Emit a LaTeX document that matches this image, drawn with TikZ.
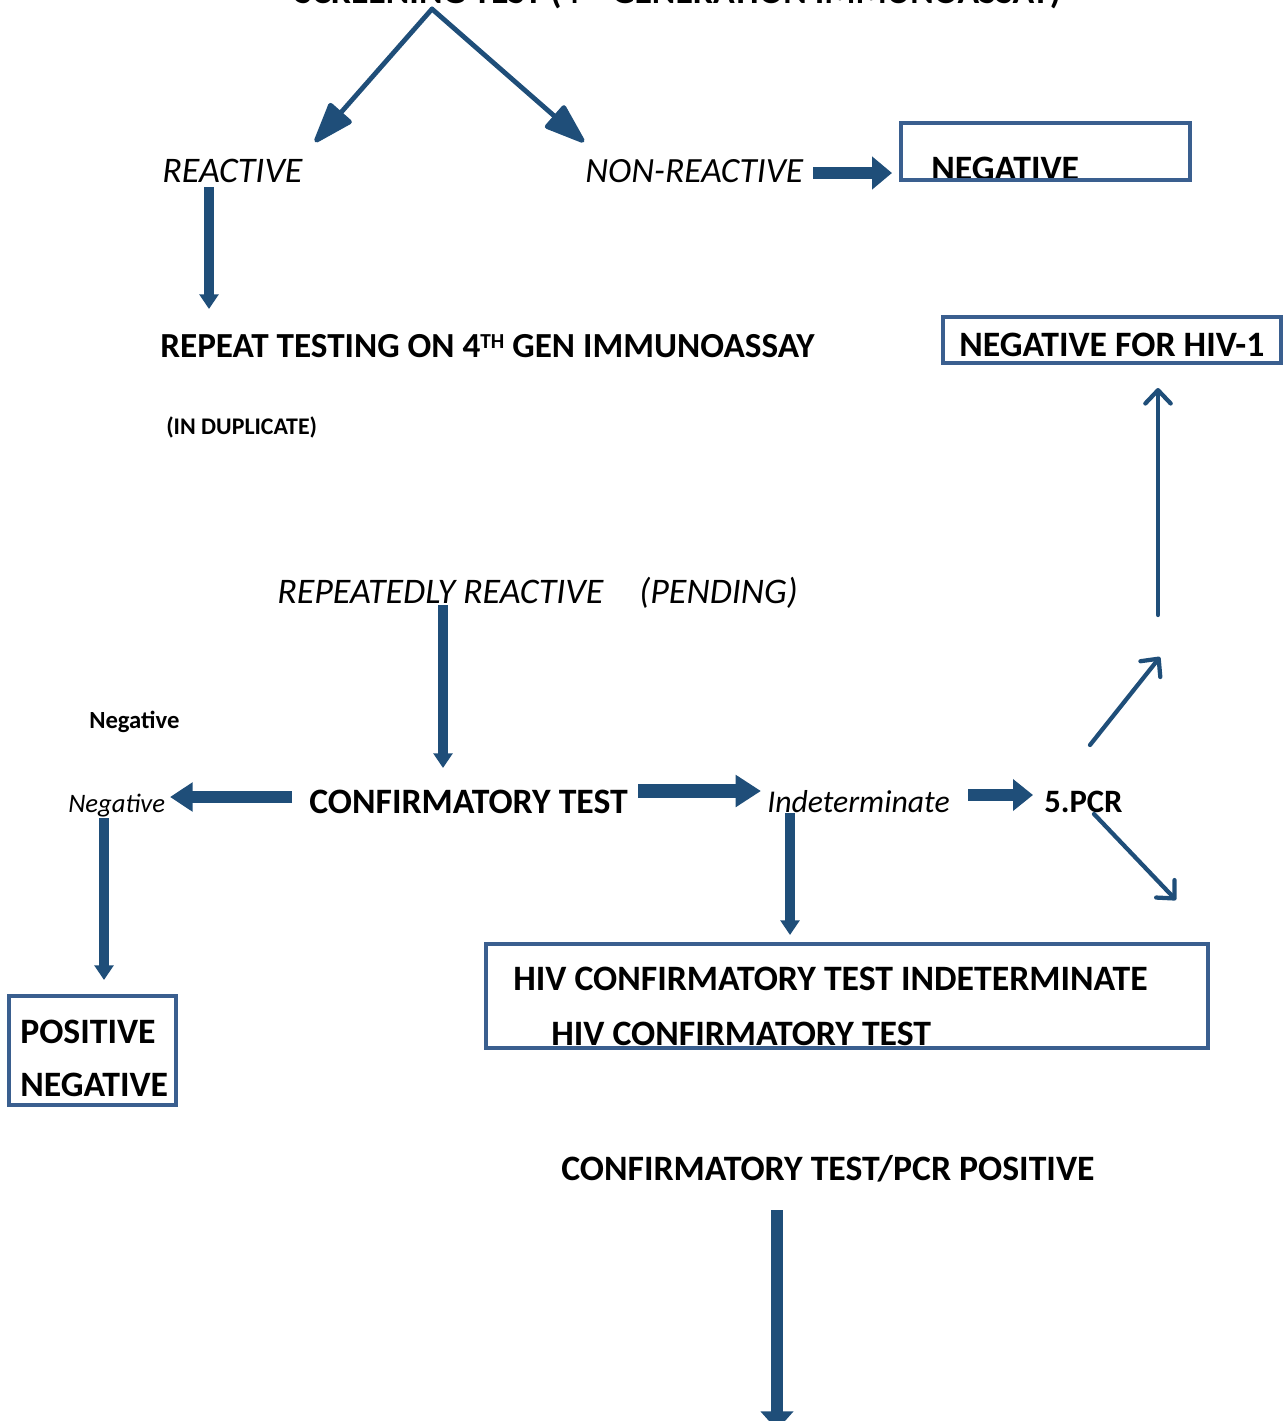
\documentclass[tikz,border=0pt]{standalone}
\usepackage{fontspec}
\setmainfont{Carlito}
\usetikzlibrary{arrows.meta}
\definecolor{arr}{RGB}{31,78,121}
\definecolor{bx}{RGB}{58,95,143}
\newcommand\supTH{{\fontsize{16}{17}\selectfont\raisebox{6.5pt}{TH}}}
\begin{document}
\begin{tikzpicture}[x=0.75pt,y=-0.75pt,
  lbl/.style={anchor=base west, inner sep=0pt, font=\fontsize{26.8}{30}\selectfont\bfseries},
  ital/.style={anchor=base west, inner sep=0pt, font=\fontsize{27}{30}\selectfont\itshape},
  boxline/.style={draw=bx, line width=2.6pt},
  thinarr/.style={draw=arr, line width=3.6pt, line cap=round, line join=round, -{Triangle[length=34pt,width=23pt,round]}},
  barb/.style={draw=arr, line width=3.2pt, line cap=round, -{Straight Barb[length=10pt,width=19pt,round]}},
  blk/.style args={#1/#2/#3}{draw=arr, line width=#1, -{Triangle[length=#2,width=#3]}}
]
\useasboundingbox (0,0) rectangle (1283,1421);

% texts
\node[lbl, anchor=base] (screen) at (678,3) {SCREENING TEST (4\supTH{} GENERATION IMMUNOASSAY)};
\node[ital] (reactive) at (162,182) {REACTIVE};
\node[ital, font=\fontsize{26.6}{30}\selectfont\itshape] (nonreactive) at (585,182) {NON-REACTIVE};
\node[lbl] (neg1) at (931,180) {NEGATIVE};
\node[lbl, font=\fontsize{26.4}{30}\selectfont\bfseries] (repeat) at (160,357) {REPEAT TESTING ON 4\supTH{} GEN IMMUNOASSAY};
\node[lbl, font=\fontsize{17.9}{20}\selectfont\bfseries] (dup) at (166,434) {(IN DUPLICATE)};
\node[lbl] (neghiv) at (959,356) {NEGATIVE FOR HIV-1};
\node[ital] (rr) at (277,603) {REPEATEDLY REACTIVE\hspace{27pt}(PENDING)};
\node[lbl, font=\fontsize{18.5}{22}\selectfont\bfseries] (negb) at (89,728) {Negative};
\node[ital, font=\fontsize{20}{24}\selectfont\itshape] (negi) at (68,812) {Negative};
\node[lbl] (conf) at (309,813) {CONFIRMATORY TEST};
\node[ital, font=\fontsize{23.8}{28}\selectfont\itshape] (indet) at (767,812) {Indeterminate};
\node[lbl, font=\fontsize{24.5}{28}\selectfont\bfseries] (pcr) at (1044,812) {5.PCR};
\node[lbl] (pos) at (20,1043) {POSITIVE};
\node[lbl] (neg2) at (20,1096) {NEGATIVE};
\node[lbl] (hivind) at (513,990) {HIV CONFIRMATORY TEST INDETERMINATE};
\node[lbl] (hivconf) at (551,1045) {HIV CONFIRMATORY TEST};
\node[lbl] (pcrpos) at (561,1180) {CONFIRMATORY TEST/PCR POSITIVE};

% boxes
\draw[boxline] (901,123) rectangle (1190,180);
\draw[boxline] (943,317) rectangle (1281,363);
\draw[boxline] (9,996) rectangle (176,1105);
\draw[boxline] (486,944) rectangle (1208,1048);

% connector points
\coordinate (apex) at (432,9);
\coordinate (reacttip) at (315,142);
\coordinate (nrtip) at (584,142);
\coordinate (nrs) at (813,173);
\coordinate (nre) at (892,173);
\coordinate (rs) at (209,187);
\coordinate (re) at (209,309);
\coordinate (rrs) at (443,605);
\coordinate (rre) at (443,768);
\coordinate (cls) at (292,797);
\coordinate (cle) at (170,797);
\coordinate (nds) at (104,818);
\coordinate (nde) at (104,980);
\coordinate (crs) at (638,791);
\coordinate (cre) at (761,791);
\coordinate (ips) at (968,795);
\coordinate (ipe) at (1033,795);
\coordinate (ids) at (790,813);
\coordinate (ide) at (790,935);
\coordinate (ups) at (1158,615);
\coordinate (upe) at (1158,388);
\coordinate (p1s) at (1090,745);
\coordinate (p1e) at (1160,657);
\coordinate (p2s) at (1094,814);
\coordinate (p2e) at (1176,900);
\coordinate (fs) at (777,1210);
\coordinate (fe) at (777,1430);

% connectors
\draw[thinarr] (apex) -- (reacttip);
\draw[thinarr] (apex) -- (nrtip);
\draw[blk=9pt/15pt/24pt] (nrs) -- (nre);
\draw[blk=7.5pt/11pt/14pt] (rs) -- (re);
\draw[blk=7pt/11pt/14pt] (rrs) -- (rre);
\draw[blk=9.5pt/17pt/21pt] (cls) -- (cle);
\draw[blk=7pt/11pt/14pt] (nds) -- (nde);
\draw[blk=10.5pt/19pt/23pt] (crs) -- (cre);
\draw[blk=9pt/15pt/23pt] (ips) -- (ipe);
\draw[blk=7pt/11pt/14pt] (ids) -- (ide);
\draw[barb] (ups) -- (upe);
\draw[barb] (p1s) -- (p1e);
\draw[barb] (p2s) -- (p2e);
\draw[blk=9pt/14pt/24pt] (fs) -- (fe);
\end{tikzpicture}
\end{document}
